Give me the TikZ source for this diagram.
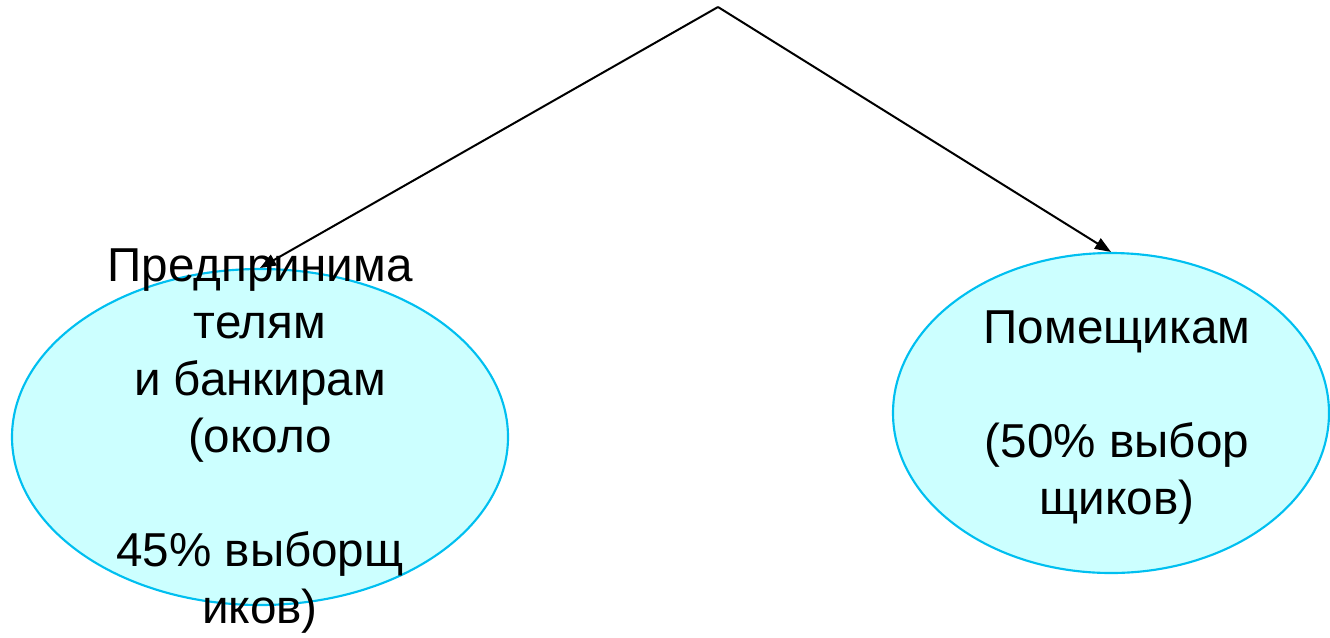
\documentclass[tikz,border=0pt]{standalone}
\usepackage{fontspec}
\setmainfont{Liberation Sans}
\usetikzlibrary{shapes.geometric, arrows.meta}

\definecolor{ovalfill}{RGB}{204,255,255}
\definecolor{ovalline}{RGB}{0,191,240}

\begin{document}
\begin{tikzpicture}[x=0.75pt, y=-0.75pt,
    oval/.style={draw=ovalline, fill=ovalfill, line width=1.6pt, ellipse, inner sep=0pt},
    label/.style={align=center, inner sep=0pt, font=\fontsize{35.7pt}{42.75pt}\selectfont},
    link/.style={line width=1.5pt, -{Triangle[length=12pt, width=9pt]}}]

\useasboundingbox (0,0) rectangle (1330,637);

% Draw ovals
\node[oval, minimum width=372pt, minimum height=252pt] (left) at (260,437) {};
\node[oval, minimum width=327pt, minimum height=240pt] (right) at (1111,413) {};

% Draw the two branches
\coordinate (top) at (718,7);
\draw[link] (top) -- (left.north);
\draw[link] (top) -- (right.north);

% Texts of the ovals
\node[label] (lefttext) at (260,441) {Предпринима\\ телям\\ и банкирам\\ (около\\[42.75pt] 45\% выборщ\\ иков)};
\node[label] (righttext) at (1117,418) {Помещикам\\[42.75pt] (50\% выбор\\ щиков)};

\end{tikzpicture}
\end{document}
